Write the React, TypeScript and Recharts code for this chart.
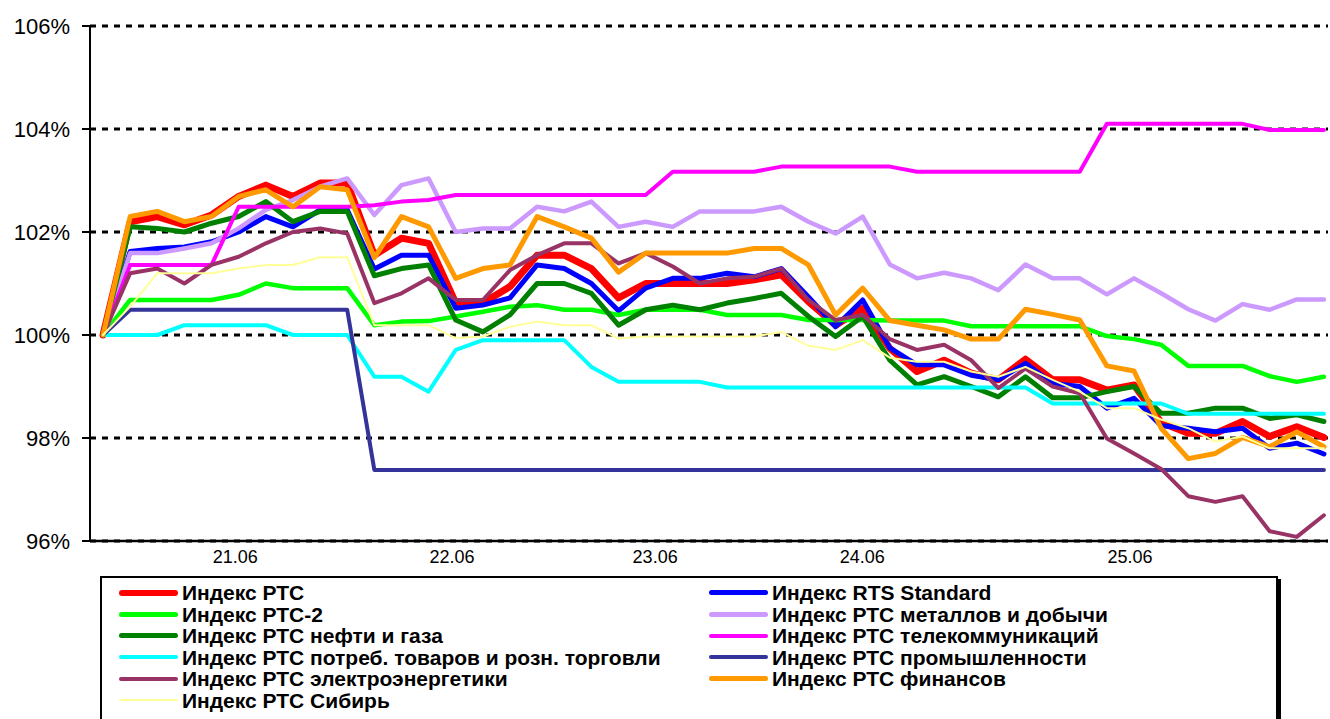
import React from 'react';
import { LineChart, Line, XAxis, YAxis, CartesianGrid } from 'recharts';

// intraday points, index 0 = base (100%)
const rts = [100, 102.2, 102.3, 102.14, 102.33, 102.69, 102.91, 102.69, 102.95, 102.95, 101.55, 101.88, 101.78, 100.62, 100.62, 100.94, 101.55, 101.55, 101.29, 100.72, 101.0, 101.0, 101.0, 101.0, 101.07, 101.17, 100.65, 100.19, 100.52, 99.74, 99.29, 99.51, 99.26, 99.13, 99.53, 99.13, 99.13, 98.93, 99.03, 98.3, 98.09, 98.09, 98.32, 98.03, 98.22, 98.01];
const rtsStandard = [100, 101.62, 101.68, 101.71, 101.81, 102.0, 102.3, 102.1, 102.43, 102.43, 101.28, 101.55, 101.55, 100.52, 100.58, 100.72, 101.36, 101.29, 101.0, 100.47, 100.91, 101.1, 101.1, 101.2, 101.13, 101.29, 100.74, 100.16, 100.68, 99.75, 99.42, 99.42, 99.22, 99.13, 99.45, 99.06, 99.0, 98.58, 98.77, 98.24, 98.19, 98.12, 98.19, 97.8, 97.9, 97.69];
const rts2 = [100, 100.68, 100.68, 100.68, 100.68, 100.78, 101.0, 100.91, 100.91, 100.91, 100.19, 100.26, 100.27, 100.36, 100.45, 100.55, 100.58, 100.49, 100.49, 100.39, 100.49, 100.49, 100.49, 100.39, 100.39, 100.39, 100.29, 100.29, 100.29, 100.28, 100.28, 100.28, 100.17, 100.17, 100.17, 100.17, 100.17, 99.98, 99.92, 99.81, 99.4, 99.4, 99.4, 99.2, 99.09, 99.19];
const metals = [100, 101.59, 101.59, 101.68, 101.78, 102.07, 102.43, 102.62, 102.88, 103.04, 102.33, 102.91, 103.04, 102.0, 102.07, 102.07, 102.49, 102.4, 102.59, 102.1, 102.2, 102.1, 102.4, 102.4, 102.4, 102.49, 102.2, 101.97, 102.3, 101.37, 101.1, 101.21, 101.1, 100.87, 101.37, 101.1, 101.1, 100.79, 101.1, 100.81, 100.5, 100.28, 100.6, 100.49, 100.69, 100.69];
const oilGas = [100, 102.1, 102.07, 102.0, 102.17, 102.3, 102.59, 102.2, 102.4, 102.4, 101.15, 101.29, 101.36, 100.29, 100.06, 100.39, 101.0, 101.0, 100.81, 100.19, 100.49, 100.58, 100.49, 100.62, 100.71, 100.81, 100.36, 99.97, 100.36, 99.51, 99.03, 99.19, 99.0, 98.8, 99.19, 98.78, 98.78, 98.9, 99.0, 98.48, 98.48, 98.58, 98.58, 98.38, 98.45, 98.32];
const telecom = [100, 101.36, 101.36, 101.36, 101.36, 102.49, 102.49, 102.49, 102.49, 102.49, 102.52, 102.59, 102.62, 102.72, 102.72, 102.72, 102.72, 102.72, 102.72, 102.72, 102.72, 103.17, 103.17, 103.17, 103.17, 103.27, 103.27, 103.27, 103.27, 103.27, 103.17, 103.17, 103.17, 103.17, 103.17, 103.17, 103.17, 104.1, 104.1, 104.1, 104.1, 104.1, 104.1, 103.98, 103.98, 103.98];
const consumer = [100, 100, 100, 100.19, 100.19, 100.19, 100.19, 100, 100, 100, 99.19, 99.19, 98.9, 99.71, 99.9, 99.9, 99.9, 99.9, 99.38, 99.09, 99.09, 99.09, 99.09, 98.98, 98.98, 98.98, 98.98, 98.98, 98.98, 98.98, 98.98, 98.98, 98.98, 98.98, 98.98, 98.67, 98.67, 98.67, 98.67, 98.67, 98.47, 98.47, 98.47, 98.47, 98.47, 98.47];
const industry = [100, 100.49, 100.49, 100.49, 100.49, 100.49, 100.49, 100.49, 100.49, 100.49, 97.38, 97.38, 97.38, 97.38, 97.38, 97.38, 97.38, 97.38, 97.38, 97.38, 97.38, 97.38, 97.38, 97.38, 97.38, 97.38, 97.38, 97.38, 97.38, 97.38, 97.38, 97.38, 97.38, 97.38, 97.38, 97.38, 97.38, 97.38, 97.38, 97.38, 97.38, 97.38, 97.38, 97.38, 97.38, 97.38];
const power = [100, 101.2, 101.29, 101.0, 101.36, 101.52, 101.78, 102.0, 102.07, 101.97, 100.62, 100.81, 101.1, 100.68, 100.68, 101.26, 101.55, 101.78, 101.78, 101.39, 101.59, 101.33, 101.0, 101.1, 101.13, 101.29, 100.68, 100.29, 100.39, 99.92, 99.71, 99.81, 99.51, 98.97, 99.35, 99.0, 98.87, 97.99, 97.7, 97.4, 96.87, 96.76, 96.87, 96.19, 96.08, 96.5];
const finance = [100, 102.3, 102.4, 102.2, 102.3, 102.69, 102.82, 102.49, 102.88, 102.82, 101.5, 102.3, 102.1, 101.1, 101.29, 101.36, 102.3, 102.1, 101.88, 101.22, 101.59, 101.59, 101.59, 101.59, 101.68, 101.68, 101.36, 100.39, 100.91, 100.28, 100.19, 100.1, 99.92, 99.92, 100.5, 100.4, 100.29, 99.4, 99.3, 98.19, 97.6, 97.7, 98.01, 97.83, 98.12, 97.83];
const siberia = [100, 100.55, 101.2, 101.2, 101.2, 101.29, 101.36, 101.36, 101.51, 101.51, 100.19, 100.19, 100.19, 99.94, 99.97, 100.16, 100.26, 100.19, 100.19, 99.93, 99.97, 99.97, 99.97, 99.97, 99.97, 100.06, 99.79, 99.71, 99.9, 99.56, 99.48, 99.48, 99.29, 99.19, 99.38, 99.13, 98.9, 98.58, 98.58, 98.36, 98.19, 97.93, 98.03, 97.8, 97.8, 97.8];

const dayLabels = ['21.06', '22.06', '23.06', '24.06', '25.06'];
const dayTickPos = [4.87, 12.86, 20.35, 27.98, 37.85];
const yTicks = [96, 98, 100, 102, 104, 106];

const series = [
    { key: 'rts', name: 'Индекс РТС', color: '#FF0000', width: 7, values: rts },
    { key: 'rtsStandard', name: 'Индекс RTS Standard', color: '#0000FF', width: 5, values: rtsStandard },
    { key: 'rts2', name: 'Индекс РТС-2', color: '#00FF00', width: 4.5, values: rts2 },
    { key: 'metals', name: 'Индекс РТС металлов и добычи', color: '#CC99FF', width: 4.5, values: metals },
    { key: 'oilGas', name: 'Индекс РТС нефти и газа', color: '#008000', width: 5, values: oilGas },
    { key: 'telecom', name: 'Индекс РТС телекоммуникаций', color: '#FF00FF', width: 4, values: telecom },
    { key: 'consumer', name: 'Индекс РТС потреб. товаров и розн. торговли', color: '#00FFFF', width: 4, values: consumer },
    { key: 'industry', name: 'Индекс РТС промышленности', color: '#333399', width: 4, values: industry },
    { key: 'power', name: 'Индекс РТС электроэнергетики', color: '#993366', width: 4, values: power },
    { key: 'finance', name: 'Индекс РТС финансов', color: '#FF9900', width: 5, values: finance },
    { key: 'siberia', name: 'Индекс РТС Сибирь', color: '#FFFF99', width: 2, values: siberia },
];

const data = rts.map((_, i) => {
    const row: Record<string, number> = { idx: i };
    series.forEach((s) => { row[s.key] = s.values[i]; });
    return row;
});

const font = '"Liberation Sans", Arial, sans-serif';

export default function App() {
    return (
        <div style={{ position: 'absolute', left: 0, top: 0, width: 1330, height: 719, overflow: 'hidden', background: '#fff', fontFamily: font }}>
            <LineChart width={1330} height={719} data={data} margin={{ top: 26, right: 2, left: 0, bottom: 148 }}>
                <CartesianGrid horizontal vertical={false} stroke="#000" strokeWidth={3} strokeDasharray="6 6" />
                <XAxis
                    type="number"
                    dataKey="idx"
                    domain={[-0.48, 45.15]}
                    allowDataOverflow
                    ticks={dayTickPos}
                    interval={0}
                    tickFormatter={(v) => dayLabels[dayTickPos.indexOf(v)] ?? ''}
                    tickLine={false}
                    tickSize={0}
                    tickMargin={9}
                    height={30}
                    axisLine={{ stroke: '#000', strokeWidth: 2.5 }}
                    tick={{ fill: '#000', fontSize: 18, fontFamily: font }}
                />
                <YAxis
                    type="number"
                    domain={[96, 106]}
                    ticks={yTicks}
                    interval={0}
                    width={90}
                    tickSize={8}
                    tickMargin={12}
                    tickFormatter={(v) => `${v}%`}
                    axisLine={{ stroke: '#000', strokeWidth: 2 }}
                    tickLine={{ stroke: '#000', strokeWidth: 2 }}
                    tick={{ fill: '#000', fontSize: 22, fontFamily: font }}
                />
                {series.map((s) => (
                    <Line
                        key={s.key}
                        type="linear"
                        dataKey={s.key}
                        name={s.name}
                        stroke={s.color}
                        strokeWidth={s.width}
                        strokeLinejoin="round"
                        strokeLinecap="round"
                        dot={false}
                        activeDot={false}
                        isAnimationActive={false}
                    />
                ))}
            </LineChart>
            <div style={{ position: 'absolute', left: 100, top: 576, width: 1178, height: 200, border: '2px solid #000', boxShadow: '3px 3px 0 #000', background: '#fff', boxSizing: 'border-box' }} />
            <div style={{ position: 'absolute', left: 119, top: 582, display: 'grid', gridTemplateColumns: '590px 570px', gridAutoRows: '21.5px' }}>
                {series.map((s) => (
                    <div key={s.key} style={{ display: 'flex', alignItems: 'center', height: 21.5 }}>
                        <div style={{ width: 59, height: Math.min(s.width, 6), background: s.color, borderRadius: 4 }} />
                        <span style={{ marginLeft: 4, fontSize: 21, fontWeight: 'bold', color: '#000', whiteSpace: 'nowrap', lineHeight: '21.5px' }}>{s.name}</span>
                    </div>
                ))}
            </div>
        </div>
    );
}
